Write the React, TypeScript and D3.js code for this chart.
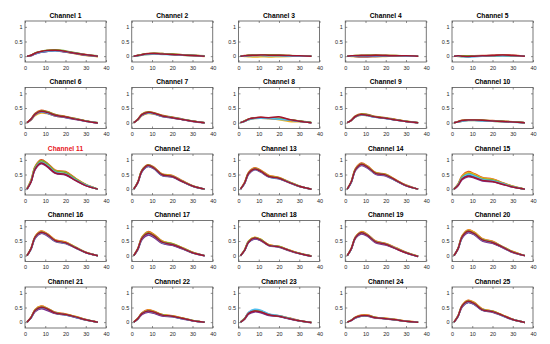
import React, { useEffect, useRef } from "react";
import * as d3 from "d3";

// sample positions along the x axis (shared by every trace)
const xSamples = [1, 3, 5, 8, 11, 15, 20, 25, 30, 36];
const xTicks = [0, 10, 20, 30, 40];
const yTicks = [0, 0.5, 1];
const yTickLabels = ["0", "0.5", "1"];
const seriesColors = ["#0072BD", "#D95319", "#EDB120", "#7E2F8E", "#77AC30", "#4DBEEE", "#A2142F"];
const highlighted = [11];

// values in hundredths, one row per trace (blue, orange, yellow, purple, green, cyan, red)
const channel1 = [
  [0, 2, 8, 14, 17, 19, 15, 9, 4, -1],
  [0, 3, 10, 17, 19, 21, 17, 11, 6, 0],
  [0, 2, 9, 15, 18, 20, 14, 8, 2, -2],
  [0, 1, 7, 13, 16, 18, 14, 9, 3, 0],
  [0, 3, 11, 16, 20, 22, 18, 12, 5, 1],
  [0, 2, 8, 14, 17, 18, 15, 10, 4, 0],
  [0, 3, 10, 16, 19, 20, 16, 10, 5, 0],
];
const channel2 = [
  [0, 2, 5, 7, 8, 7, 6, 4, 2, 0],
  [0, 3, 6, 9, 10, 9, 7, 5, 3, 0],
  [0, 1, 4, 6, 7, 8, 5, 3, 1, -1],
  [0, 2, 5, 8, 9, 8, 6, 4, 2, 0],
  [0, 2, 6, 8, 10, 9, 7, 5, 3, 1],
  [0, 1, 4, 6, 7, 6, 5, 3, 2, 0],
  [0, 2, 5, 8, 9, 7, 6, 4, 2, 0],
];
const channel3 = [
  [0, 1, 2, 3, 3, 3, 2, 1, 1, 0],
  [0, 2, 3, 4, 5, 4, 3, 2, 1, 0],
  [0, -1, -2, -3, -2, -3, -2, -1, 0, 0],
  [0, 1, 2, 2, 3, 2, 2, 1, 0, 0],
  [0, 1, 3, 4, 4, 5, 4, 2, 1, 0],
  [0, 0, 1, 2, 2, 1, 1, 0, 0, 0],
  [0, 1, 2, 3, 4, 3, 3, 2, 1, 0],
];
const channel4 = [
  [0, 0, 1, 2, 2, 2, 2, 1, 1, 0],
  [0, 1, 2, 3, 3, 4, 3, 2, 1, 0],
  [0, -1, -2, -3, -3, -2, -1, 0, 0, 0],
  [0, 0, -1, -2, -2, -1, 0, 1, 1, 0],
  [0, 1, 2, 2, 3, 3, 2, 2, 1, 0],
  [0, 0, 0, 1, 1, 1, 1, 1, 0, 0],
  [0, 1, 1, 2, 2, 3, 2, 1, 1, 0],
];
const channel5 = [
  [0, 1, 0, -2, -1, 0, 1, 2, 1, 0],
  [0, 0, 1, 0, 1, 2, 3, 5, 3, 0],
  [0, -1, -2, -1, 0, 1, 2, 3, 2, 0],
  [0, 1, 1, 0, 0, 1, 2, 2, 2, 0],
  [0, 0, 1, 1, 0, 1, 1, 2, 1, 0],
  [0, 0, -2, -3, -1, 0, 1, 1, 1, 0],
  [0, 1, 0, -1, 0, 1, 2, 4, 2, 0],
];
const channel6 = [
  [0, 11, 28, 38, 34, 25, 19, 12, 5, -1],
  [0, 13, 32, 42, 38, 28, 21, 14, 6, 0],
  [0, 9, 24, 33, 31, 23, 18, 12, 6, 0],
  [0, 10, 27, 36, 32, 23, 17, 11, 5, -1],
  [0, 12, 30, 40, 37, 27, 20, 13, 6, 0],
  [0, 11, 28, 37, 33, 24, 18, 12, 5, 0],
  [0, 12, 29, 39, 35, 25, 19, 12, 5, -1],
];
const channel7 = [
  [0, 10, 26, 34, 31, 22, 17, 11, 5, 0],
  [0, 12, 29, 37, 34, 25, 19, 12, 6, 0],
  [0, 9, 23, 31, 29, 22, 17, 11, 5, 0],
  [0, 10, 25, 33, 30, 21, 16, 10, 4, -1],
  [0, 11, 28, 36, 33, 24, 18, 12, 6, 0],
  [0, 10, 26, 33, 30, 22, 17, 11, 5, 0],
  [0, 11, 27, 35, 32, 23, 17, 11, 5, 0],
];
const channel8 = [
  [0, 5, 11, 15, 16, 15, 13, 10, 5, 0],
  [0, 6, 13, 17, 18, 16, 15, 11, 6, 0],
  [0, 4, 10, 14, 15, 13, 10, 4, 3, 0],
  [0, 5, 12, 16, 17, 15, 13, 9, 5, 0],
  [0, 6, 12, 16, 17, 16, 14, 10, 6, 1],
  [0, 4, 10, 14, 15, 14, 12, 9, 4, 0],
  [0, 5, 12, 16, 18, 17, 20, 11, 5, 0],
];
const channel9 = [
  [0, 8, 20, 27, 25, 19, 15, 9, 4, 0],
  [0, 9, 23, 30, 28, 21, 17, 11, 5, 0],
  [0, 7, 19, 25, 24, 19, 15, 10, 5, 0],
  [0, 8, 20, 27, 24, 18, 14, 9, 4, -1],
  [0, 9, 22, 29, 27, 20, 16, 10, 5, 0],
  [0, 8, 20, 26, 24, 18, 14, 9, 4, 0],
  [0, 8, 21, 28, 25, 19, 15, 9, 4, 0],
];
const channel10 = [
  [0, 3, 6, 8, 8, 7, 6, 4, 2, 0],
  [0, 4, 8, 10, 10, 9, 7, 5, 3, 0],
  [0, 2, 5, 7, 7, 7, 5, 3, 2, 0],
  [0, 3, 6, 8, 8, 7, 5, 4, 2, 0],
  [0, 3, 7, 9, 9, 8, 6, 5, 3, 0],
  [0, 2, 5, 7, 7, 6, 5, 3, 1, 0],
  [0, 3, 7, 9, 9, 8, 6, 4, 2, 0],
];
const channel11 = [
  [0, 26, 70, 90, 79, 56, 50, 31, 13, 0],
  [2, 30, 78, 100, 89, 65, 60, 37, 16, 0],
  [2, 32, 76, 96, 86, 63, 58, 36, 16, 0],
  [0, 24, 67, 87, 76, 54, 48, 29, 12, 0],
  [1, 29, 75, 97, 86, 62, 57, 35, 15, 0],
  [0, 27, 71, 92, 81, 58, 52, 32, 14, 0],
  [0, 25, 69, 89, 78, 55, 50, 30, 12, 0],
];
const channel12 = [
  [0, 22, 60, 78, 70, 47, 42, 26, 11, 0],
  [1, 25, 65, 83, 75, 52, 47, 29, 12, 0],
  [1, 24, 63, 80, 73, 51, 46, 28, 12, 0],
  [0, 21, 59, 77, 69, 46, 41, 25, 10, 0],
  [0, 24, 64, 82, 73, 50, 44, 27, 11, 0],
  [0, 23, 61, 79, 71, 48, 43, 26, 11, 0],
  [0, 23, 62, 81, 72, 49, 43, 26, 11, 0],
];
const channel13 = [
  [0, 20, 53, 68, 60, 43, 36, 23, 10, 0],
  [1, 23, 58, 73, 65, 47, 40, 25, 11, 0],
  [1, 22, 56, 71, 63, 46, 39, 25, 11, 0],
  [0, 19, 51, 66, 58, 41, 35, 22, 9, 0],
  [0, 21, 55, 70, 62, 44, 38, 24, 10, 0],
  [0, 20, 53, 68, 60, 42, 36, 23, 10, 0],
  [0, 21, 54, 69, 61, 43, 37, 23, 10, 0],
];
const channel14 = [
  [0, 24, 65, 83, 74, 53, 47, 29, 12, 0],
  [1, 27, 70, 89, 79, 57, 51, 32, 14, 0],
  [1, 26, 68, 87, 78, 56, 50, 31, 13, 0],
  [0, 23, 63, 81, 72, 51, 45, 28, 11, 0],
  [0, 25, 67, 86, 76, 55, 49, 30, 13, 0],
  [0, 24, 65, 84, 74, 53, 47, 29, 12, 0],
  [0, 25, 66, 85, 75, 54, 48, 30, 12, 0],
];
const channel15 = [
  [0, 14, 37, 48, 43, 32, 28, 18, 8, 0],
  [1, 18, 46, 60, 53, 40, 35, 22, 10, 0],
  [1, 17, 44, 57, 51, 38, 34, 21, 10, 0],
  [0, 12, 32, 42, 38, 28, 25, 16, 7, 0],
  [0, 16, 41, 53, 47, 35, 31, 20, 9, 0],
  [0, 15, 39, 51, 45, 33, 29, 19, 8, 0],
  [0, 13, 35, 45, 40, 30, 26, 17, 7, 0],
];
const channel16 = [
  [0, 23, 61, 78, 70, 50, 43, 27, 11, 0],
  [1, 26, 66, 84, 75, 54, 47, 29, 12, 0],
  [1, 25, 65, 83, 74, 53, 46, 29, 12, 0],
  [0, 22, 59, 76, 68, 48, 41, 26, 10, 0],
  [0, 24, 63, 81, 72, 51, 44, 28, 11, 0],
  [0, 23, 62, 79, 71, 50, 43, 27, 11, 0],
  [0, 24, 63, 80, 72, 51, 44, 27, 11, 0],
];
const channel17 = [
  [0, 21, 56, 72, 64, 44, 36, 24, 10, 0],
  [1, 25, 63, 82, 73, 50, 40, 27, 12, 0],
  [1, 24, 62, 80, 71, 49, 42, 27, 12, 0],
  [0, 20, 54, 70, 62, 42, 35, 23, 9, 0],
  [0, 23, 60, 78, 69, 48, 41, 26, 11, 0],
  [0, 22, 58, 75, 66, 45, 38, 25, 10, 0],
  [0, 23, 59, 76, 67, 46, 38, 25, 10, 0],
];
const channel18 = [
  [0, 18, 46, 58, 52, 35, 30, 18, 7, -2],
  [1, 20, 50, 62, 55, 37, 31, 19, 8, -1],
  [1, 20, 50, 63, 56, 37, 32, 19, 8, -1],
  [0, 17, 45, 57, 51, 34, 29, 17, 7, -2],
  [0, 19, 49, 61, 55, 36, 31, 18, 8, -1],
  [0, 18, 47, 59, 53, 35, 30, 18, 7, -2],
  [0, 18, 47, 60, 53, 35, 30, 18, 7, -2],
];
const channel19 = [
  [0, 23, 60, 76, 68, 46, 38, 24, 10, -3],
  [1, 25, 64, 82, 73, 50, 42, 27, 12, -2],
  [1, 25, 63, 81, 72, 49, 41, 26, 11, -2],
  [0, 22, 58, 74, 66, 44, 36, 23, 9, -3],
  [0, 24, 62, 79, 70, 48, 40, 25, 11, -2],
  [0, 23, 61, 77, 69, 47, 39, 25, 10, -3],
  [0, 24, 61, 78, 69, 47, 39, 24, 10, -3],
];
const channel20 = [
  [0, 23, 62, 80, 73, 52, 44, 28, 12, 0],
  [1, 26, 68, 88, 80, 58, 49, 31, 14, 0],
  [1, 25, 67, 87, 79, 57, 48, 31, 14, 0],
  [0, 22, 60, 78, 71, 50, 42, 27, 11, 0],
  [0, 24, 65, 84, 76, 55, 46, 30, 13, 0],
  [0, 24, 63, 82, 74, 53, 45, 29, 12, 0],
  [0, 24, 64, 83, 75, 54, 45, 29, 12, 0],
];
const channel21 = [
  [0, 15, 38, 48, 42, 30, 25, 17, 8, 0],
  [1, 17, 43, 55, 48, 34, 28, 19, 9, 0],
  [1, 17, 42, 54, 47, 33, 27, 19, 9, 0],
  [0, 14, 36, 46, 40, 29, 24, 16, 7, 0],
  [0, 16, 41, 52, 46, 32, 26, 18, 8, 0],
  [0, 15, 39, 50, 44, 31, 25, 17, 8, 0],
  [0, 16, 40, 51, 45, 31, 26, 18, 8, 0],
];
const channel22 = [
  [0, 11, 28, 36, 32, 23, 19, 12, 5, 0],
  [1, 13, 32, 42, 37, 26, 22, 14, 6, 0],
  [1, 12, 31, 41, 36, 26, 21, 14, 6, 0],
  [0, 10, 26, 34, 30, 21, 18, 11, 5, 0],
  [0, 12, 30, 39, 35, 25, 20, 13, 6, 0],
  [0, 11, 29, 37, 33, 24, 19, 12, 5, 0],
  [0, 12, 29, 38, 34, 24, 20, 13, 5, 0],
];
const channel23 = [
  [0, 11, 29, 37, 34, 24, 20, 12, 5, -1],
  [1, 13, 33, 41, 38, 27, 22, 14, 6, -1],
  [1, 12, 32, 40, 37, 26, 21, 13, 5, -1],
  [0, 10, 27, 35, 32, 23, 19, 11, 4, -2],
  [0, 12, 31, 40, 37, 26, 21, 13, 5, -1],
  [0, 12, 34, 44, 41, 28, 22, 13, 5, -1],
  [0, 11, 30, 38, 35, 25, 20, 12, 5, -1],
];
const channel24 = [
  [0, 6, 15, 21, 21, 15, 12, 8, 3, 0],
  [0, 7, 17, 24, 24, 17, 13, 9, 4, 0],
  [0, 7, 17, 23, 23, 16, 13, 9, 4, 0],
  [0, 5, 14, 20, 20, 14, 11, 7, 3, 0],
  [0, 7, 16, 22, 22, 16, 12, 8, 3, 0],
  [0, 6, 15, 21, 21, 15, 12, 8, 3, 0],
  [0, 6, 16, 22, 22, 15, 12, 8, 3, 0],
];
const channel25 = [
  [0, 20, 53, 68, 61, 41, 35, 22, 9, -1],
  [1, 22, 58, 75, 67, 45, 38, 24, 10, -1],
  [1, 22, 57, 74, 66, 45, 38, 24, 10, -1],
  [0, 19, 52, 67, 60, 40, 34, 21, 8, -1],
  [0, 21, 56, 72, 64, 43, 37, 23, 9, -1],
  [0, 21, 54, 70, 62, 42, 36, 22, 9, -1],
  [0, 21, 55, 71, 63, 42, 36, 23, 9, -1],
];

const channels = [
  channel1, channel2, channel3, channel4, channel5,
  channel6, channel7, channel8, channel9, channel10,
  channel11, channel12, channel13, channel14, channel15,
  channel16, channel17, channel18, channel19, channel20,
  channel21, channel22, channel23, channel24, channel25,
];

const ChannelGrid = () => {
  const ref = useRef(null);

  useEffect(() => {
    const svg = d3.select(ref.current);
    svg.selectAll("*").remove();

    const plotW = 81,
      plotH = 41;
    const x = d3.scaleLinear().domain([0, 40]).range([0, plotW]);
    const y = d3.scaleLinear().domain([-0.2, 1.2]).range([plotH, 0]);

    const line = d3
      .line<number>()
      .x((_, i) => x(xSamples[i]))
      .y((v) => y(v / 100))
      .curve(d3.curveCatmullRom.alpha(0.5));

    channels.forEach((traces, idx) => {
      const col = idx % 5,
        row = Math.floor(idx / 5);
      const g = svg
        .append("g")
        .attr("transform", `translate(${25 + col * 106.75},${21 + row * 66.5})`);

      // traces
      traces.forEach((vals, k) => {
        g.append("path")
          .attr("d", line(vals))
          .attr("fill", "none")
          .attr("stroke", seriesColors[k % seriesColors.length])
          .attr("stroke-width", 1.5)
          .attr("stroke-linejoin", "round");
      });

      // axes, ticks pointing inwards like matlab
      const bottom = g
        .append("g")
        .attr("transform", `translate(0,${plotH})`)
        .call(d3.axisBottom(x).tickValues(xTicks).tickSize(-2).tickPadding(4));
      const left = g
        .append("g")
        .call(
          d3
            .axisLeft(y)
            .tickValues(yTicks)
            .tickFormat((_, i) => yTickLabels[i])
            .tickSize(-2)
            .tickPadding(2.5)
        );
      g.append("g").call(d3.axisTop(x).tickValues(xTicks).tickSize(-2).tickFormat(() => ""));
      g.append("g")
        .attr("transform", `translate(${plotW},0)`)
        .call(d3.axisRight(y).tickValues(yTicks).tickSize(-2).tickFormat(() => ""));

      g.selectAll(".domain").remove();
      g.selectAll(".tick line").attr("stroke", "#444").attr("stroke-width", 0.6);
      [bottom, left].forEach((a) =>
        a
          .selectAll("text")
          .attr("font-family", "Liberation Sans, Arial, sans-serif")
          .attr("font-size", 5.5)
          .attr("fill", "#262626")
      );

      g.append("rect")
        .attr("width", plotW)
        .attr("height", plotH)
        .attr("fill", "none")
        .attr("stroke", "#555")
        .attr("stroke-width", 0.8);

      const num = idx + 1;
      g.append("text")
        .attr("x", plotW / 2)
        .attr("y", -3.5)
        .attr("text-anchor", "middle")
        .attr("font-family", "Liberation Sans, Arial, sans-serif")
        .attr("font-weight", "bold")
        .attr("font-size", 6.7)
        .attr("fill", highlighted.includes(num) ? "#E8161B" : "#000")
        .text(`Channel ${num}`);
    });
  }, []);

  return (
    <svg
      ref={ref}
      width={550}
      height={344}
      style={{ position: "absolute", left: 0, top: 0, background: "#fff" }}
    />
  );
};

export default function App() {
  return <ChannelGrid />;
}
